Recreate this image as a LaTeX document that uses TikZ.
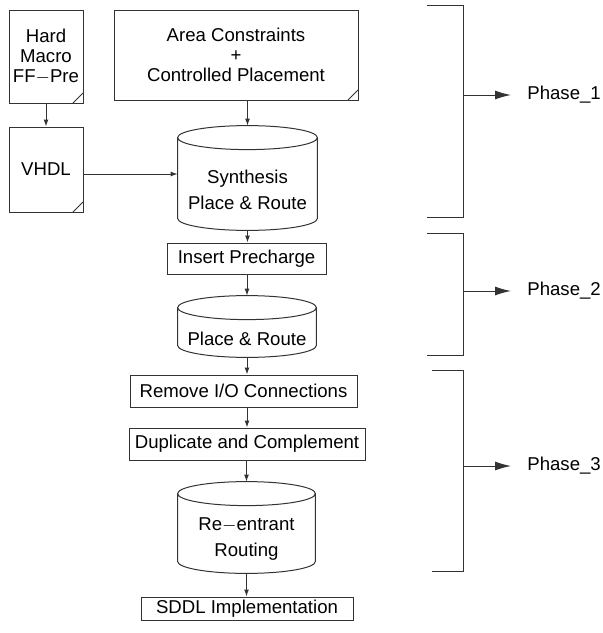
\documentclass[tikz,border=0pt]{standalone}
\usepackage{fontspec}
\setmainfont{Liberation Sans}
\usetikzlibrary{arrows.meta,positioning,calc}

\begin{document}
\begin{tikzpicture}[
    x=0.5pt, y=-0.5pt,
    every node/.style={font=\fontsize{9.3}{10}\selectfont, text=black},
    line/.style={draw=black!80, line width=0.5pt},
    doc/.style={line, rectangle, align=center, inner sep=0pt,
        path picture={\draw[black!80, line width=0.5pt]
            ([xshift=-5pt]path picture bounding box.south east) --
            ([yshift=5pt]path picture bounding box.south east);}},
    proc/.style={line, rectangle, align=center, inner sep=0pt},
    store/.style={rectangle, align=center, inner sep=0pt, font=\fontsize{9.3}{13}\selectfont},
    phase/.style={anchor=west, inner xsep=8pt},
    edge/.style={line, -{Latex[length=3.5pt,width=2.5pt]}},
    bigedge/.style={line, -{Latex[length=8pt,width=4.5pt]}},
    bracket/.style={line},
]
\useasboundingbox (0,0) rectangle (602,633);

% Inputs
\node[doc, minimum width=37pt, minimum height=46.5pt] (hard) at (46,56.5) {Hard\\Macro\\FF$-$Pre};
\node[doc, minimum width=37pt, minimum height=42.5pt] (vhdl) at (46,169.5) {VHDL};
\node[doc, minimum width=122pt, minimum height=45pt] (area) at (236,55) {Area Constraints\\+\\Controlled Placement};

% Phase 1
\node[store, minimum width=69.5pt, minimum height=40pt] (synth) at (247.5,190) {Synthesis\\Place \& Route};

% Phase 2
\node[proc, minimum width=79.5pt, minimum height=15.5pt] (precharge) at (246.5,258.5) {Insert Precharge};
\node[store, minimum width=69pt, minimum height=18.5pt] (pr) at (247,338.5) {Place \& Route};

% Phase 3
\node[proc, minimum width=113.5pt, minimum height=16pt] (remove) at (243.5,391) {Remove I/O Connections};
\node[proc, minimum width=118pt, minimum height=16pt] (dup) at (247,444) {Duplicate and Complement};
\node[store, minimum width=68.5pt, minimum height=33.5pt] (reroute) at (246.5,539.5) {Re$-$entrant\\Routing};
\node[proc, minimum width=106pt, minimum height=11.5pt] (sddl) at (247,608.5) {SDDL Implementation};

% Cylinders
\foreach \c in {synth,pr,reroute}{
  \draw[line] let \p1=(\c.south west), \p2=(\c.south east), \n1={(\x2-\x1)/2} in
    ([yshift=6pt]\c.north west) -- ([yshift=6pt]\c.south west)
    arc[start angle=180, end angle=360, x radius=\n1, y radius=6pt]
    -- ([yshift=6pt]\c.north east)
    arc[start angle=0, end angle=360, x radius=\n1, y radius=6pt];
}

% Edges
\draw[edge] (hard) -- (vhdl);
\draw[edge] (vhdl.east |- 0,174) -- (synth.west |- 0,174);
\draw[edge] (area.south -| synth.north) -- ([yshift=12pt]synth.north);
\draw[edge] (synth.south) -- (precharge.north -| synth.south);
\draw[edge] (precharge.south -| pr.north) -- ([yshift=12pt]pr.north);
\draw[edge] (pr.south) -- (remove.north -| pr.south);
\draw[edge] (remove.south -| dup.north) -- (dup.north);
\draw[edge] (dup.south -| reroute.north) -- ([yshift=12pt]reroute.north);
\draw[edge] (reroute.south) -- (sddl.north -| reroute.south);

% Phases
\draw[bracket] (427,5) -- (463,5) -- (463,217) -- (427,217);
\coordinate (b1) at (463,95);
\node[phase] (p1) at (511,95) {Phase\_1};
\draw[bigedge] (b1) -- (p1.west);

\draw[bracket] (427,233) -- (463,233) -- (463,355) -- (427,355);
\coordinate (b2) at (463,291);
\node[phase] (p2) at (511,291) {Phase\_2};
\draw[bigedge] (b2) -- (p2.west);

\draw[bracket] (432,370) -- (463,370) -- (463,571) -- (432,571);
\coordinate (b3) at (463,466);
\node[phase] (p3) at (511,466) {Phase\_3};
\draw[bigedge] (b3) -- (p3.west);

\end{tikzpicture}
\end{document}
